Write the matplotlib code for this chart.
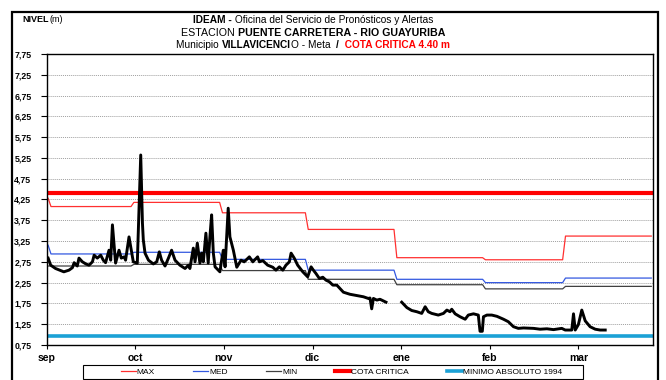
import numpy as np
import matplotlib
matplotlib.use("Agg")
import matplotlib.pyplot as plt
from matplotlib.lines import Line2D
from matplotlib.patches import Rectangle

plt.rcParams['font.family'] = ['Liberation Sans', 'DejaVu Sans']

# ---------- datos ----------

meses = ["sep", "oct", "nov", "dic", "ene", "feb", "mar"]
dias_mes = [30, 31, 30, 31, 31, 28, 31]

# niveles historicos mensuales (m)
max_mes = [4.08, 4.18, 3.93, 3.53, 2.85, 2.80, 3.37]
med_mes = [2.94, 2.98, 2.81, 2.55, 2.33, 2.25, 2.36]
min_mes = [2.65, 2.69, 2.54, 2.33, 2.20, 2.10, 2.16]
# valor del primer dia (viene del mes anterior)
max_inicio = 4.28
med_inicio = 3.15
min_inicio = 2.65

cota_critica = 4.40
minimo_1994 = 0.97

# lecturas observadas: dia desde 1 sep, nivel (m); nan = sin dato
dias_obs = [0.0, 0.9, 2.6, 5.5, 7.3, 8.5, 9.1, 10.2, 10.8, 12.0, 13.2, 14.3, 15.5,
            16.1, 17.2, 18.4, 19.3, 20.1, 21.3, 21.9, 22.5, 23.3, 23.6, 24.8, 25.6,
            26.6, 27.1, 28.3, 29.1, 29.8, 31.2, 32.4, 33.0, 33.3, 33.9, 35.1, 36.8,
            38.0, 38.9, 39.7, 40.9, 42.1, 43.2, 44.4, 46.1, 47.9, 49.1, 49.6, 50.8,
            51.4, 52.2, 53.1, 53.7, 54.3, 55.2, 56.0, 56.6, 57.2, 57.8, 58.4, 59.5,
            60.1, 60.7, 61.3, 61.9, 63.0, 63.6, 64.8, 66.0, 67.5, 68.6, 70.4, 71.6,
            73.3, 73.9, 75.1, 76.8, 78.6, 79.7, 80.9, 82.1, 83.2, 84.4, 85.0, 86.1,
            87.3, 89.1, 90.8, 92.0, 92.8, 93.7, 94.9, 96.1, 97.2, 98.4, 99.6, 101.0,
            103.3, 105.6, 108.0, 110.3, 112.0, 112.6, 113.2, 113.8, 115.0, 116.1,
            118.2, 121.0, 123.7, 125.5, 127.2, 129.0, 130.7, 131.9, 133.0, 134.2,
            136.5, 138.3, 139.5, 140.6, 141.2, 142.4, 144.1, 145.9, 147.0, 148.8,
            150.5, 151.1, 151.9, 152.3, 153.5, 155.2, 157.0, 159.3, 161.0, 162.8,
            164.5, 166.3, 169.8, 172.1, 174.5, 176.8, 179.7, 180.9, 183.2, 183.8,
            184.4, 185.5, 186.7, 187.9, 189.6, 191.4, 193.1, 194.9]
nivel_obs = [2.84, 2.67, 2.59, 2.51, 2.55, 2.61, 2.73, 2.65, 2.84, 2.75, 2.70, 2.67, 2.75,
             2.91, 2.84, 2.91, 2.79, 2.73, 3.03, 2.79, 3.64, 2.96, 2.72, 3.03, 2.84,
             2.87, 2.79, 3.35, 3.03, 2.75, 2.72, 5.32, 3.68, 3.28, 2.96, 2.79, 2.70,
             2.75, 2.99, 2.79, 2.65, 2.84, 3.03, 2.79, 2.67, 2.59, 2.67, 2.59, 3.08,
             2.75, 3.20, 2.72, 2.96, 2.75, 3.44, 2.72, 3.35, 3.88, 2.96, 2.63, 2.55,
             2.51, 2.79, 3.03, 2.63, 4.04, 3.35, 3.03, 2.62, 2.79, 2.75, 2.87, 2.75,
             2.87, 2.75, 2.78, 2.67, 2.62, 2.55, 2.63, 2.55, 2.67, 2.75, 2.96, 2.84,
             2.67, 2.51, 2.39, 2.63, 2.55, 2.47, 2.35, 2.38, 2.31, 2.27, 2.19, 2.19,
             2.02, 1.97, 1.94, 1.91, 1.87, 1.88, 1.62, 1.87, 1.83, 1.85,
             1.78, np.nan, 1.78, 1.65, 1.58, 1.55, 1.51, 1.67, 1.55, 1.51,
             1.47, 1.51, 1.59, 1.55, 1.61, 1.50, 1.43, 1.37, 1.47, 1.50,
             1.47, 1.08, 1.08, 1.43, 1.47, 1.47, 1.44, 1.37, 1.31, 1.19,
             1.15, 1.16, 1.15, 1.13, 1.14, 1.12, 1.15, 1.11, 1.11, 1.50,
             1.11, 1.24, 1.59, 1.33, 1.19, 1.13, 1.11, 1.11]


def serie_diaria(valores, inicio):
    y = np.repeat(np.asarray(valores, dtype=float), dias_mes)
    y[0] = inicio
    return y


def texto_mixto(fig, y, partes, size, centro):
    """Dibuja una linea de texto con tramos de distinto estilo, centrada en x=centro (fraccion)."""
    renderer = fig.canvas.get_renderer()
    fw = fig.bbox.width
    piezas, ancho = [], 0.0
    for s, peso, color in partes:
        t = fig.text(0, y, s, fontsize=size, fontweight=peso, color=color, ha="left", va="center")
        w = t.get_window_extent(renderer).width
        piezas.append((t, w))
        ancho += w
    x = centro * fw - ancho / 2
    for t, w in piezas:
        t.set_x(x / fw)
        x += w


# ---------- figura ----------

fig = plt.figure(figsize=(6.66, 3.80), dpi=100)
W, H = 666.0, 380.0
ax = fig.add_axes([0.0701, 0.0921, 0.9099, 0.7659])

n_dias = sum(dias_mes)
x = np.arange(n_dias)
ax.plot(x, serie_diaria(max_mes, max_inicio), color="#ff3030", lw=0.9)
ax.plot(x, serie_diaria(med_mes, med_inicio), color="#3358e0", lw=0.9)
ax.plot(x, serie_diaria(min_mes, min_inicio), color="#404040", lw=0.9)
ax.axhline(cota_critica, color="#ff0000", lw=3.0)
ax.axhline(minimo_1994, color="#1ba1d6", lw=2.6)
ax.plot(dias_obs, nivel_obs, color="black", lw=2.1, solid_joinstyle="round")

ax.set_xlim(-0.5, n_dias - 0.5)
ax.set_ylim(0.75, 7.75)
yt = np.arange(0.75, 7.76, 0.5)
ax.set_yticks(yt)
ax.set_yticklabels([f"{v:.2f}".replace(".", ",") for v in yt], fontsize=6.3, fontweight="bold")
ax.set_xticks([-0.5 + 31 * k for k in range(len(meses))])
ax.set_xticklabels(meses, fontsize=7.5, fontweight="bold")
ax.tick_params(axis="y", length=4, width=0.8, pad=7)
ax.tick_params(axis="x", length=3, width=0.8, pad=3)
ax.grid(axis="y", color="#a0a0a0", linestyle=(0, (1, 1)), lw=0.7)
for s in ax.spines.values():
    s.set_linewidth(1.0)

# leyenda inferior con su recuadro
handles = [
    Line2D([], [], color="#ff3030", lw=0.9),
    Line2D([], [], color="#3358e0", lw=0.9),
    Line2D([], [], color="#404040", lw=0.9),
    Line2D([], [], color="#ff0000", lw=3.0),
    Line2D([], [], color="#1ba1d6", lw=2.6),
]
etiquetas = ["MAX", "MED", "MIN", "COTA CRITICA", "MINIMO ABSOLUTO 1994"]
fig.legend(handles, etiquetas, ncol=5, loc="center left",
           bbox_to_anchor=(121 / W, 1 - 372 / H),
           fontsize=6.0, frameon=False,
           handlelength=1.8, handletextpad=0.1, columnspacing=4.6,
           borderpad=0, borderaxespad=0)
fig.add_artist(Rectangle((83 / W, 1 - 379 / H), (583 - 83) / W, 14 / H,
                         transform=fig.transFigure, fill=False, edgecolor="black", lw=0.8))

# marco exterior
fig.add_artist(Rectangle((12 / W, -0.1), 646 / W, 1.1 - 12 / H,
                         transform=fig.transFigure, fill=False, edgecolor="black", lw=1.6))

fig.text(22 / W, 1 - 19 / H, "NIVEL", fontsize=6.5, fontweight="bold", va="center")
fig.text(49.5 / W, 1 - 19 / H, "(m)", fontsize=6.5, va="center")

centro = 0.47
texto_mixto(fig, 1 - 20 / H, [("IDEAM -", "bold", "black"),
                                (" Oficina del Servicio de Pronósticos y Alertas", "normal", "black")],
            7.3, centro)
texto_mixto(fig, 1 - 32.5 / H, [("ESTACION ", "normal", "black"),
                                  ("PUENTE CARRETERA - RIO GUAYURIBA", "bold", "black")],
            7.7, centro)
texto_mixto(fig, 1 - 45 / H, [("Municipio ", "normal", "black"),
                                ("VILLAVICENCI", "bold", "black"),
                                ("O - Meta  ", "normal", "black"),
                                ("/", "bold", "black"),
                                ("  COTA CRITICA 4.40 m", "bold", "#ff0000")],
            7.3, centro)

fig.savefig("out.png", dpi=100)
